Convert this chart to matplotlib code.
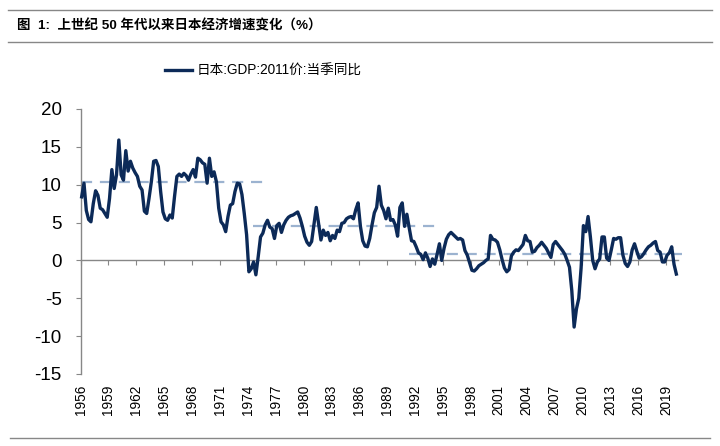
import matplotlib
matplotlib.use("Agg")
import matplotlib.pyplot as plt
from matplotlib.lines import Line2D
import numpy as np

plt.rcParams['axes.unicode_minus'] = False

# ---------------- data ----------------
start_year = 1956
# Japan real GDP (2011 prices), quarterly YoY %, 1956Q1 .. 2020Q1
gdp_yoy = [
    8.4, 10.2, 6.6, 5.4,     # 1956
    5.1, 7.5, 9.2, 8.6,      # 1957
    6.9, 6.7, 6.2, 5.7,      # 1958
    8.2, 12.0, 9.5, 11.3,    # 1959
    15.9, 11.3, 10.6, 14.5,  # 1960
    11.8, 13.1, 12.2, 11.6,  # 1961
    11.1, 9.8, 9.3, 6.5,     # 1962
    6.2, 8.2, 10.4, 13.1,    # 1963
    13.2, 12.4, 9.1, 6.4,    # 1964
    5.5, 5.3, 6.0, 5.6,      # 1965
    8.5, 11.1, 11.4, 11.1,   # 1966
    11.5, 11.2, 10.6, 11.4,  # 1967
    12.0, 11.0, 13.5, 13.3,  # 1968
    12.9, 12.7, 10.2, 13.5,  # 1969
    11.1, 11.7, 10.4, 6.9,   # 1970
    5.1, 4.7, 3.8, 5.8,      # 1971
    7.3, 7.5, 9.1, 10.2,     # 1972
    10.1, 8.7, 6.2, 3.4,     # 1973
    -1.5, -1.1, -0.2, -1.9,  # 1974
    0.5, 3.1, 3.6, 4.7,      # 1975
    5.3, 4.4, 4.2, 2.9,      # 1976
    4.6, 4.9, 3.7, 4.7,      # 1977
    5.3, 5.7, 5.9, 6.0,      # 1978
    6.2, 6.4, 5.6, 4.5,      # 1979
    3.2, 2.4, 2.0, 2.5,      # 1980
    4.7, 7.0, 4.8, 2.7,      # 1981
    4.0, 3.3, 3.7, 2.6,      # 1982
    3.3, 2.9, 4.0, 3.8,      # 1983
    4.9, 5.0, 5.5, 5.7,      # 1984
    5.8, 5.5, 6.7, 7.6,      # 1985
    4.5, 2.6, 1.9, 1.8,      # 1986
    2.9, 4.7, 6.3, 7.0,      # 1987
    9.8, 7.3, 6.6, 5.5,      # 1988
    6.9, 5.3, 5.4, 4.7,      # 1989
    3.2, 7.0, 7.6, 4.5,      # 1990
    6.1, 4.3, 2.6, 2.5,      # 1991
    1.8, 1.0, 0.8, 0.1,      # 1992
    1.0, 0.3, -0.8, 0.2,     # 1993
    -0.5, 0.8, 2.2, 0.0,     # 1994
    1.6, 2.8, 3.4, 3.7,      # 1995
    3.4, 3.1, 2.8, 2.9,      # 1996
    2.7, 1.3, 0.7, -0.3,     # 1997
    -1.3, -1.4, -1.1, -0.7,  # 1998
    -0.5, -0.3, 0.0, 0.2,    # 1999
    3.3, 2.8, 2.7, 2.4,      # 2000
    1.4, 0.1, -1.0, -1.5,    # 2001
    -1.2, 0.6, 1.1, 1.4,     # 2002
    1.3, 1.7, 2.1, 3.3,      # 2003
    2.6, 2.5, 1.1, 1.2,      # 2004
    1.7, 2.0, 2.4, 2.0,      # 2005
    1.6, 1.0, 0.4, 2.1,      # 2006
    2.5, 2.1, 1.7, 1.3,      # 2007
    0.8, 0.0, -0.9, -4.0,    # 2008
    -8.8, -6.4, -5.0, -1.0,  # 2009
    4.6, 3.8, 5.8, 3.1,      # 2010
    0.0, -1.1, -0.2, 0.2,    # 2011
    3.1, 3.1, 0.3, 0.0,      # 2012
    1.4, 2.9, 2.8, 3.0,      # 2013
    3.0, 0.7, -0.4, -0.8,    # 2014
    -0.2, 1.4, 2.2, 1.2,     # 2015
    0.3, 0.5, 0.9, 1.4,      # 2016
    1.8, 2.0, 2.3, 2.5,      # 2017
    1.3, 1.1, -0.2, -0.2,    # 2018
    0.7, 1.0, 1.8, -0.5,     # 2019
    -1.8,                    # 2020
]

# period averages (dashed reference lines)
avg_levels = [10.3, 4.6, 0.9]
avg_starts = [1956.0, 1974.6, 1991.4]
avg_ends = [1976.0, 1994.1, 2020.7]

tick_years = list(range(1956, 2020, 3))
tick_labels = [str(y) for y in tick_years]
y_ticks = [-15, -10, -5, 0, 5, 10, 15, 20]

title_text = "图  1:  上世纪 50 年代以来日本经济增速变化（%）"
legend_label = "日本:GDP:2011价:当季同比"

# ---------------- styles ----------------
navy = "#0C2A58"
dash_col = "#9CB3D0"
gray = "#878787"
lat_cjk = ['Liberation Sans', 'Noto Sans CJK SC', 'DejaVu Sans']

fig = plt.figure(figsize=(7.2, 4.46), dpi=100)
ax = fig.add_axes([80.5 / 720, 1 - 374 / 446, (677.5 - 80.5) / 720, (374 - 109) / 446])

x = start_year + (np.arange(len(gdp_yoy)) + 0.5) / 4.0

for lvl, s, e in zip(avg_levels, avg_starts, avg_ends):
    ax.plot([s, e], [lvl, lvl], color=dash_col, lw=1.6,
            linestyle=(0, (5, 3.5)), zorder=2, clip_on=False)

line, = ax.plot(x, gdp_yoy, color=navy, lw=2.4, zorder=3,
                solid_joinstyle='round', label=legend_label, clip_on=False)

ax.set_xlim(1956, 2020.25)
ax.set_ylim(-15, 20)

# spines
for s in ['top', 'right']:
    ax.spines[s].set_visible(False)
ax.spines['left'].set_color(gray)
ax.spines['bottom'].set_color(gray)
ax.spines['bottom'].set_position(('data', 0))
ax.spines['left'].set_linewidth(1.0)
ax.spines['bottom'].set_linewidth(1.0)

ax.set_yticks(y_ticks)
ax.set_yticklabels([str(v) for v in y_ticks])
ax.tick_params(axis='y', direction='out', length=3.6, color=gray, pad=10,
               labelsize=13.5, labelcolor='black')
for t in ax.get_yticklabels():
    t.set_family('Liberation Sans')

ax.set_xticks(tick_years)
ax.tick_params(axis='x', direction='out', length=3.6, color=gray,
               labelbottom=False)

sec = ax.secondary_xaxis('bottom')
sec.set_xticks(tick_years)
sec.set_xticklabels(tick_labels)
sec.tick_params(length=0, pad=8, labelsize=9.8)
sec.spines['bottom'].set_visible(False)
for t in sec.get_xticklabels():
    t.set_rotation(90)
    t.set_family('Liberation Sans')

# title and rules
fig.add_artist(Line2D([8 / 720, 712 / 720], [1 - 10 / 446] * 2,
                      transform=fig.transFigure, color=gray, lw=1.0))
fig.add_artist(Line2D([8 / 720, 712 / 720], [1 - 42 / 446] * 2,
                      transform=fig.transFigure, color=gray, lw=1.0))
fig.add_artist(Line2D([10 / 720, 710 / 720], [1 - 438 / 446] * 2,
                      transform=fig.transFigure, color=gray, lw=1.0))
fig.text(17 / 720, 1 - 26 / 446, title_text, ha='left', va='center',
         fontsize=9.7, fontweight='bold', family=lat_cjk)

leg = fig.legend(handles=[line], loc='center', bbox_to_anchor=(263 / 720, 1 - 71 / 446),
                 frameon=False, handlelength=2.0, handletextpad=0.35,
                 prop={'family': lat_cjk, 'size': 9.8})

fig.savefig("out.png", dpi=100)
